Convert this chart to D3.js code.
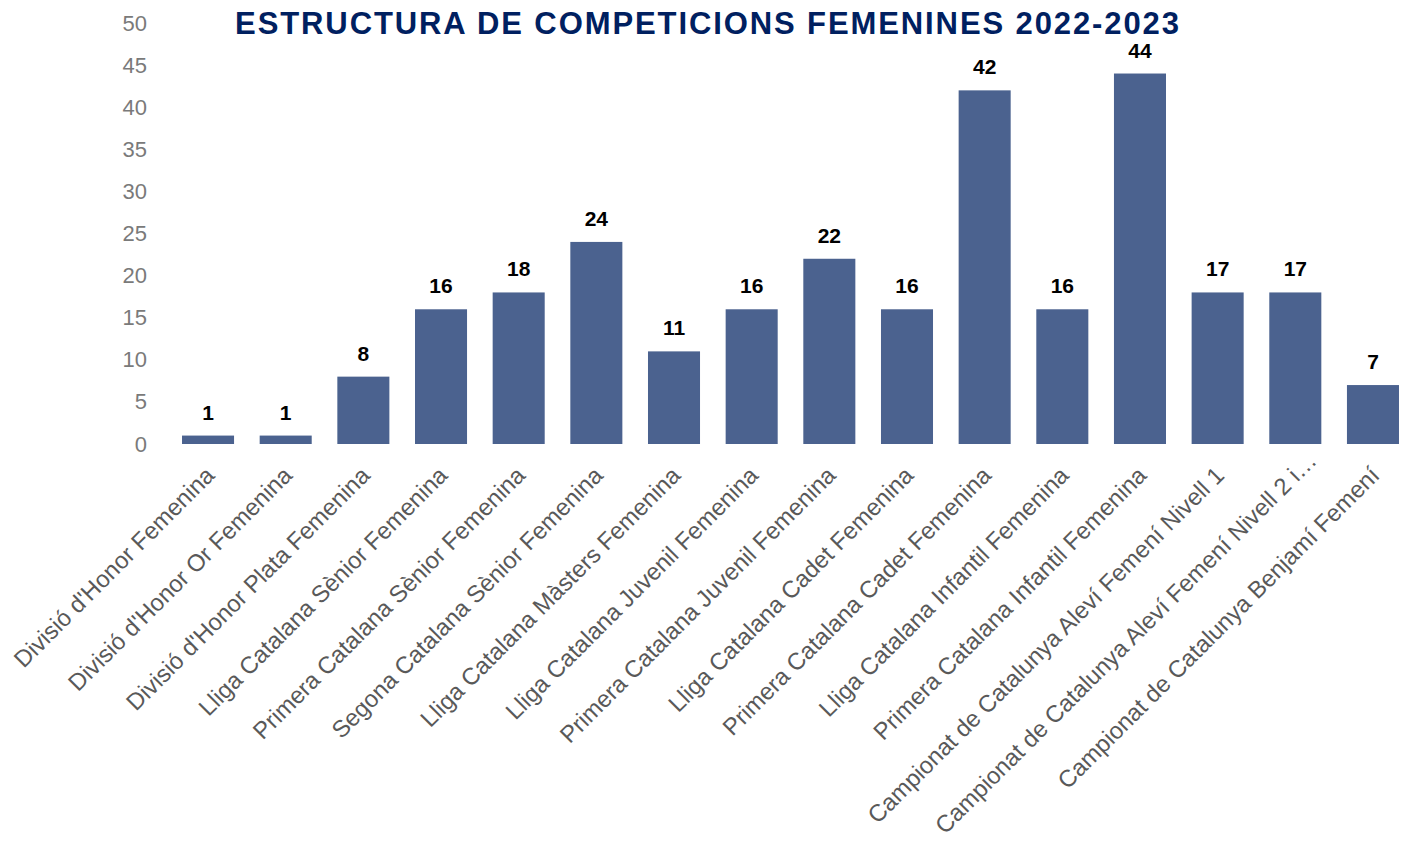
<!DOCTYPE html>
<html><head><meta charset="utf-8">
<script src="https://cdn.jsdelivr.net/npm/d3@7"></script>
<style>
body{margin:0;background:#fff;}
svg{display:block;font-family:"Liberation Sans",Arial,sans-serif;}
</style></head>
<body><svg id="chart" width="1410" height="841"></svg>
<script>
const categories = [
  "Divisió d'Honor Femenina",
  "Divisió d'Honor Or Femenina",
  "Divisió d'Honor Plata Femenina",
  "Lliga Catalana Sènior Femenina",
  "Primera Catalana Sènior Femenina",
  "Segona Catalana Sènior Femenina",
  "Lliga Catalana Màsters Femenina",
  "Lliga Catalana Juvenil Femenina",
  "Primera Catalana Juvenil Femenina",
  "Lliga Catalana Cadet Femenina",
  "Primera Catalana Cadet Femenina",
  "Lliga Catalana Infantil Femenina",
  "Primera Catalana Infantil Femenina",
  "Campionat de Catalunya Aleví Femení Nivell 1",
  "Campionat de Catalunya Aleví Femení Nivell 2 i…",
  "Campionat de Catalunya Benjamí Femení"
];
const values = [1, 1, 8, 16, 18, 24, 11, 16, 22, 16, 42, 16, 44, 18, 18, 7];
const valueLabels = ["1", "1", "8", "16", "18", "24", "11", "16", "22", "16", "42", "16", "44", "17", "17", "7"];
const yTicks = [0, 5, 10, 15, 20, 25, 30, 35, 40, 45, 50];
const title = "ESTRUCTURA DE COMPETICIONS FEMENINES 2022-2023";

const svg = d3.select("#chart");
const x = d3.scaleBand().domain(categories).range([169.2, 1411.8]).paddingInner(0.33).paddingOuter(0.165);
const y = d3.scaleLinear().domain([0, 50]).range([444, 23]);

// y axis
const yAxis = svg.append("g").attr("transform", "translate(147,0)")
  .call(d3.axisLeft(y).tickValues(yTicks).tickSize(0).tickPadding(0));
yAxis.select(".domain").remove();
yAxis.selectAll("text").attr("font-size", 22).attr("fill", "#7a7a7a")
  .attr("font-family", "'Liberation Sans', Arial, sans-serif");

// bars
svg.append("g").selectAll("rect").data(values).join("rect")
  .attr("x", (d, i) => x(categories[i]))
  .attr("width", x.bandwidth())
  .attr("y", d => y(d))
  .attr("height", d => y(0) - y(d))
  .attr("fill", "#4B628F");

// value labels
svg.append("g").selectAll("text").data(values).join("text")
  .attr("x", (d, i) => x(categories[i]) + x.bandwidth() / 2)
  .attr("y", d => y(d) - 16)
  .attr("text-anchor", "middle")
  .attr("font-size", 21).attr("font-weight", "bold").attr("fill", "#000")
  .text((d, i) => valueLabels[i]);

// x labels
const xAxis = svg.append("g").attr("transform", "translate(0,444)")
  .call(d3.axisBottom(x).tickSize(0).tickPadding(0));
xAxis.select(".domain").remove();
xAxis.selectAll("text")
  .attr("font-size", 23.8).attr("fill", "#595959")
  .attr("font-family", "'Liberation Sans', Arial, sans-serif")
  .attr("text-anchor", "end")
  .attr("dy", "0.35em")
  .attr("dx", d => d.endsWith("…") ? 21 : 0)
  .attr("transform", "translate(2,27) rotate(-45)");

// title
svg.append("text").attr("x", 708).attr("y", 34)
  .attr("text-anchor", "middle").attr("font-size", 31).attr("font-weight", "bold")
  .attr("letter-spacing", 1.9)
  .attr("fill", "#002060").text(title);
</script></body></html>
